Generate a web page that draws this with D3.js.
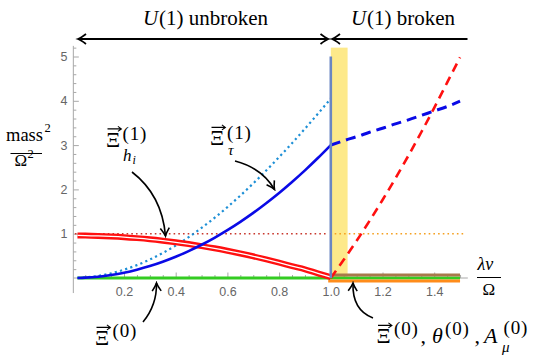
<!DOCTYPE html>
<html><head><meta charset="utf-8">
<script src="https://cdn.jsdelivr.net/npm/d3@7"></script>
<style>body{margin:0;background:#fff}svg{display:block}</style>
</head><body>
<svg id="c" width="545" height="356"></svg>
<script>
// ---------- data ----------
const xLow = [0.02,0.05,0.1,0.15,0.2,0.25,0.3,0.35,0.4,0.45,0.5,0.55,0.6,0.65,0.7,0.75,0.8,0.85,0.9,0.95,1.0];
const tauDotted = [0.002,0.012,0.047,0.105,0.187,0.291,0.417,0.565,0.733,0.922,1.13,1.356,1.6,1.86,2.136,2.426,2.729,3.044,3.37,3.707,4.05];
const tauSolid  = [0.001,0.008,0.03,0.068,0.12,0.188,0.27,0.368,0.48,0.608,0.75,0.908,1.08,1.268,1.47,1.688,1.92,2.168,2.43,2.708,3.0];
const higgs     = [0.96,0.958,0.95,0.938,0.922,0.9,0.874,0.842,0.806,0.766,0.72,0.67,0.614,0.554,0.49,0.42,0.346,0.268,0.195,0.105,0.02];
const xHigh = [1.0,1.05,1.1,1.15,1.2,1.25,1.3,1.35,1.4,1.45,1.5];
const redDashed  = [0,0.41,0.84,1.29,1.76,2.25,2.76,3.29,3.84,4.41,4.98];
const blueDashed = [3.0,3.1,3.19,3.29,3.38,3.48,3.57,3.67,3.77,3.87,3.99];
const refUnbroken = [[0.01,1],[0.99,1]];
const refBroken   = [[1.015,1],[1.52,1]];
const greenZero   = [[0.02,0],[1.5,0]];
const brownHigh   = [[1.0,0.065],[1.5,0.065]];
const orangeLow   = [[0.99,-0.065],[1.5,-0.065]];
const transition  = 1.0;
const bandEnd = 1.065;
const xTicks = [0.2,0.4,0.6,0.8,1.0,1.2,1.4];
const yTicks = [1,2,3,4,5];

// ---------- scales ----------
const svg = d3.select('#c');
const x = d3.scaleLinear().domain([0,1]).range([72.3,330.8]);
const y = d3.scaleLinear().domain([0,5]).range([278,56.5]);
const serif = "'Liberation Serif','Times New Roman',serif";
const sans = "'Liberation Sans',Arial,sans-serif";

// yellow band
svg.append('rect').attr('x',x(transition)).attr('y',y(5.2))
  .attr('width',x(bandEnd)-x(transition)).attr('height',y(0)-y(5.2))
  .attr('fill','#fde98a');

// axes
const axCol = '#a8a8a8';
svg.append('line').attr('x1',x(0.004)).attr('x2',x(1.53)).attr('y1',y(0)).attr('y2',y(0)).attr('stroke',axCol);
svg.append('line').attr('x1',x(0.004)).attr('x2',x(0.004)).attr('y1',y(5.24)).attr('y2',y(-0.34)).attr('stroke',axCol);

const xMinor = d3.range(1,31).map(i=>i*0.05).filter(v=>Math.abs(v*5-Math.round(v*5))>1e-6);
const gxm = svg.append('g').attr('transform',`translate(0,${y(0)})`)
  .call(d3.axisBottom(x).tickValues(xMinor).tickSize(-3).tickFormat(''));
const gx = svg.append('g').attr('transform',`translate(0,${y(0)})`)
  .call(d3.axisBottom(x).tickValues(xTicks).tickSize(-5.5).tickPadding(9).tickFormat(d3.format('.1f')));
const yMinor = d3.range(1,27).map(i=>i*0.2).filter(v=>Math.abs(v-Math.round(v))>1e-6);
const gym = svg.append('g').attr('transform',`translate(${x(0.004)},0)`)
  .call(d3.axisLeft(y).tickValues(yMinor).tickSize(-3).tickFormat(''));
const gy = svg.append('g').attr('transform',`translate(${x(0.004)},0)`)
  .call(d3.axisLeft(y).tickValues(yTicks).tickSize(-5.5).tickPadding(6).tickFormat(d3.format('d')));
[gxm,gx,gym,gy].forEach(g=>{
  g.select('.domain').remove();
  g.selectAll('line').attr('stroke',axCol);
  g.selectAll('text').attr('fill','#666').attr('font-family',sans).attr('font-size','12.5px');
});

// lines
const line = d3.line().x(d=>x(d[0])).y(d=>y(d[1])).curve(d3.curveMonotoneX);
const zipL = a => xLow.map((v,i)=>[v,a[i]]);
const zipH = a => xHigh.map((v,i)=>[v,a[i]]);
const draw = (data,stroke,w,dash,cap) => svg.append('path').attr('d',line(data)).attr('fill','none')
  .attr('stroke',stroke).attr('stroke-width',w).attr('stroke-dasharray',dash||null).attr('stroke-linecap',cap||'butt');

draw(greenZero,'#33cc22',3);
draw(brownHigh,'#a8784a',3);
draw(orangeLow,'#ff8c1a',3);
draw(refUnbroken,'#c8372d',1.6,'1.6,3.1');
draw(refBroken,'#f5a020',1.6,'1.6,3.1');
draw(zipL(tauDotted),'#1d8fd6',2.2,'2.2,3.2');
draw(zipL(higgs),'#ff1010',6);
draw(zipL(higgs),'#ffffff',1.3);
draw(zipL(tauSolid),'#0a0ae6',2.6);
draw(zipH(blueDashed),'#0a0ae6',3,'10,6');
draw(zipH(redDashed),'#ff1010',2.6,'9,6');

// vertical transition line
svg.append('line').attr('x1',x(transition)).attr('x2',x(transition)).attr('y1',y(5)).attr('y2',y(0))
  .attr('stroke','#6b86c2').attr('stroke-width',2.6);

// ---------- top arrows ----------
const ink = '#000';
function head(px,py,dir){
  const b = 8*(-dir);
  return `M${px+b},${py-5} Q${px+b*0.35},${py-1} ${px},${py} Q${px+b*0.35},${py+1} ${px+b},${py+5}`;
}
const ay = 39;
svg.append('line').attr('x1',79).attr('x2',327.5).attr('y1',ay).attr('y2',ay).attr('stroke',ink).attr('stroke-width',1.8);
svg.append('path').attr('d',head(78,ay,-1)+head(328.5,ay,1)).attr('fill','none').attr('stroke',ink).attr('stroke-width',1.8);
svg.append('line').attr('x1',333).attr('x2',467.5).attr('y1',ay).attr('y2',ay).attr('stroke',ink).attr('stroke-width',1.8);
svg.append('path').attr('d',head(332,ay,-1)).attr('fill','none').attr('stroke',ink).attr('stroke-width',1.8);

function mtext(parts){
  parts.forEach(p=>{
    svg.append('text').attr('x',p.x).attr('y',p.y).attr('font-family',serif)
      .attr('font-size',p.s+'px').attr('font-style',p.i?'italic':'normal')
      .attr('letter-spacing',p.ls||null)
      .attr('text-anchor',p.a||'start').attr('fill',ink).text(p.t);
  });
}
// U(1) labels
mtext([{t:'U',x:143,y:24.5,s:21,i:true},{t:'(1) unbroken',x:159,y:24.5,s:21}]);
mtext([{t:'U',x:351,y:24.5,s:21,i:true},{t:'(1) broken',x:367,y:24.5,s:21}]);

// y-axis label
mtext([{t:'mass',x:6,y:141,s:18.5},{t:'2',x:44.5,y:132,s:12.5}]);
svg.append('line').attr('x1',10.5).attr('x2',42).attr('y1',153.5).attr('y2',153.5).attr('stroke',ink).attr('stroke-width',1);
mtext([{t:'Ω',x:14.5,y:166,s:17},{t:'2',x:27.5,y:158,s:12.5}]);

// x-axis label
mtext([{t:'λv',x:477.5,y:269.5,s:18,i:true}]);
svg.append('line').attr('x1',477).attr('x2',501).attr('y1',277.5).attr('y2',277.5).attr('stroke',ink).attr('stroke-width',1);
mtext([{t:'Ω',x:482.5,y:295,s:17}]);

// vector Xi
function xi(px,py,s){
  mtext([{t:'Ξ',x:px,y:py,s:s}]);
  const w = s*0.7, ty = py - s*0.8;
  svg.append('path').attr('d',`M${px+1.5},${ty} L${px+w},${ty} M${px+w-3.5},${ty-2.5} L${px+w},${ty} L${px+w-3.5},${ty+2.5}`)
    .attr('fill','none').attr('stroke',ink).attr('stroke-width',1.1);
}
const sup = 19, ls = 0.8;
// h_i label
xi(106,146.5,22);
mtext([{t:'(1)',x:122.5,y:139.5,s:sup,ls:ls},{t:'h',x:123,y:160.5,s:17,i:true},{t:'i',x:132.5,y:163.5,s:12,i:true}]);
// tau label
xi(210,145,22);
mtext([{t:'(1)',x:227,y:138.5,s:sup,ls:ls},{t:'τ',x:228,y:155,s:15.5,i:true}]);
// Xi(0) bottom-left
xi(95,345,22);
mtext([{t:'(0)',x:112.5,y:336.5,s:sup,ls:ls}]);
// right label
xi(376.5,343,22);
mtext([{t:'(0)',x:394,y:335,s:sup,ls:ls},{t:',',x:420.5,y:343,s:22},
       {t:'θ',x:432,y:343,s:22,i:true},{t:'(0)',x:445,y:335,s:sup,ls:ls},{t:',',x:474.5,y:343,s:22},
       {t:'A',x:484,y:343,s:22,i:true},{t:'(0)',x:503.5,y:334,s:sup,ls:ls},{t:'μ',x:502,y:352,s:15,i:true}]);

// annotation arrows
svg.append('defs').append('marker').attr('id','ah').attr('viewBox','-10 -6 12 12')
  .attr('refX',0).attr('refY',0).attr('markerWidth',12).attr('markerHeight',12)
  .attr('markerUnits','userSpaceOnUse').attr('orient','auto')
  .append('path').attr('d','M-8,-4.5 Q-3,-1 0,0 Q-3,1 -8,4.5').attr('fill','none').attr('stroke',ink).attr('stroke-width',1.6);
const arrows = [
  'M132,172 Q162,195 165.5,236',
  'M235,161 Q262,168 274.5,189.5',
  'M143,322 Q157,305 156.5,283',
  'M373,318 Q352,310 353,283'
];
arrows.forEach(d=>svg.append('path').attr('d',d).attr('fill','none').attr('stroke',ink)
  .attr('stroke-width',1.6).attr('marker-end','url(#ah)'));
</script>
</body></html>
